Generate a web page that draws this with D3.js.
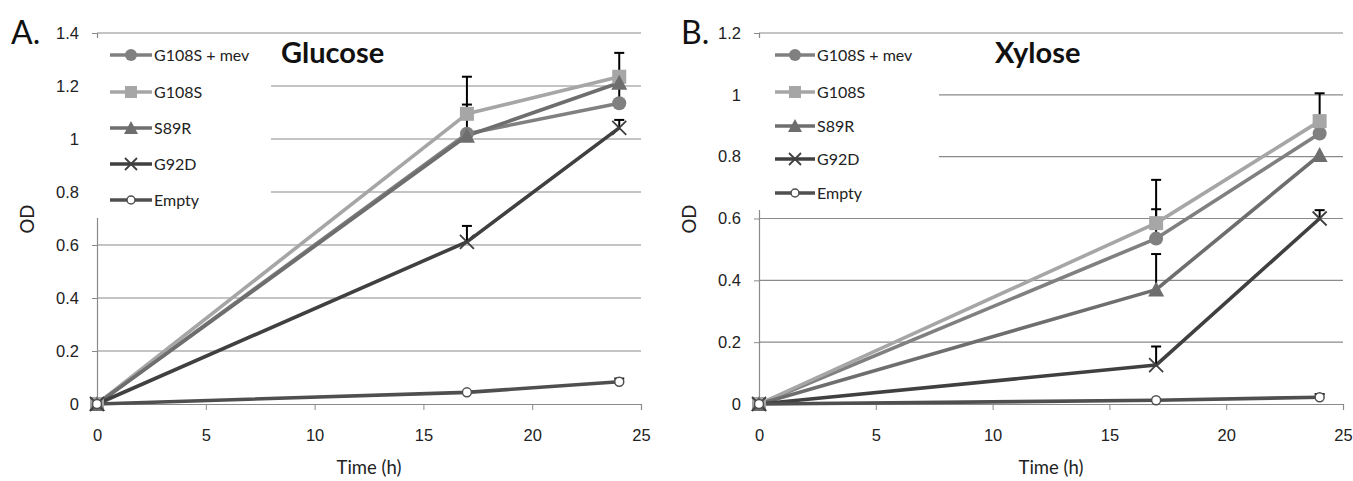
<!DOCTYPE html>
<html><head><meta charset="utf-8">
<script src="https://cdn.jsdelivr.net/npm/d3@7"></script>
<style>body{margin:0;background:#fff;} svg{display:block;font-family:Lato,"Liberation Sans",sans-serif;}</style>
</head><body>
<svg id="c" width="1353" height="481"></svg>
<script>
const times = [0, 17, 24];
const seriesNames = ["G108S + mev", "G108S", "S89R", "G92D", "Empty"];
const seriesColors = ["#808080", "#a6a6a6", "#6e6e6e", "#404040", "#4f4f4f"];
const seriesMarkers = ["circle", "square", "triangle", "x", "open"];

// Glucose panel (A)
const glucoseMev   = [0, 1.02, 1.135];
const glucoseG108S = [0, 1.095, 1.235];
const glucoseS89R  = [0, 1.012, 1.212];
const glucoseG92D  = [0, 0.612, 1.042];
const glucoseEmpty = [0, 0.044, 0.084];
const glucoseErrMev   = [0, 0.11, 0.06];
const glucoseErrG108S = [0, 0.14, 0.09];
const glucoseErrS89R  = [0, 0, 0];
const glucoseErrG92D  = [0, 0.06, 0.03];
const glucoseErrEmpty = [0, 0, 0.012];
const glucoseYTicks = [0, 0.2, 0.4, 0.6, 0.8, 1, 1.2, 1.4];

// Xylose panel (B)
const xyloseMev   = [0, 0.535, 0.875];
const xyloseG108S = [0, 0.585, 0.915];
const xyloseS89R  = [0, 0.37, 0.805];
const xyloseG92D  = [0, 0.126, 0.6];
const xyloseEmpty = [0, 0.012, 0.022];
const xyloseErrMev   = [0, 0.095, 0];
const xyloseErrG108S = [0, 0.14, 0.09];
const xyloseErrS89R  = [0, 0.115, 0];
const xyloseErrG92D  = [0, 0.06, 0.027];
const xyloseErrEmpty = [0, 0, 0.01];
const xyloseYTicks = [0, 0.2, 0.4, 0.6, 0.8, 1, 1.2];

const xTicks = [0, 5, 10, 15, 20, 25];

const svg = d3.select("#c");

function panel(cfg) {
  const g = svg.append("g");
  const x = d3.scaleLinear().domain([0, 25]).range([cfg.x0, cfg.x1]);
  const y = d3.scaleLinear().domain([0, cfg.ymax]).range([cfg.y0, cfg.y1]);

  // gridlines
  g.append("g").selectAll("line").data(cfg.yTicks.filter(d => d > 0)).join("line")
    .attr("x1", cfg.x0).attr("x2", cfg.x1).attr("y1", d => y(d)).attr("y2", d => y(d))
    .attr("stroke", "#8a8a8a").attr("stroke-width", 1.2);

  // y axis
  const ya = g.append("g").attr("transform", `translate(${cfg.x0},0)`)
    .call(d3.axisLeft(y).tickValues(cfg.yTicks).tickFormat(d => String(+d.toFixed(1))).tickSize(5).tickPadding(13));
  ya.select(".domain").attr("stroke", "#8a8a8a").attr("stroke-width", 1.2);
  ya.selectAll(".tick line").attr("stroke", "#8a8a8a");
  ya.selectAll("text").attr("font-size", 16.5).attr("fill", "#222");

  // x axis
  const xa = g.append("g").attr("transform", `translate(0,${cfg.y0})`)
    .call(d3.axisBottom(x).tickValues(xTicks).tickSize(6).tickPadding(19));
  xa.select(".domain").attr("stroke", "#8a8a8a").attr("stroke-width", 1.2);
  xa.selectAll(".tick line").attr("stroke", "#8a8a8a");
  xa.selectAll("text").attr("font-size", 16.5).attr("fill", "#222");

  // axis titles
  g.append("text").attr("x", (cfg.x0 + cfg.x1) / 2).attr("y", 474).attr("text-anchor", "middle")
    .attr("font-size", 18.5).attr("fill", "#222").text("Time (h)");
  g.append("text").attr("transform", `translate(${cfg.ylabX},${cfg.ylabY}) rotate(-90)`)
    .attr("text-anchor", "middle").attr("font-size", 18.5).attr("fill", "#222").text("OD");

  // legend background (covers gridlines)
  g.append("rect").attr("x", cfg.x0 - 6).attr("y", cfg.legTop).attr("width", cfg.legW).attr("height", cfg.legH).attr("fill", "#fff");

  const line = d3.line().x((d, i) => x(times[i])).y(d => y(d));

  // lines
  cfg.values.forEach((vals, s) => {
    g.append("path").datum(vals).attr("d", line).attr("fill", "none")
      .attr("stroke", seriesColors[s]).attr("stroke-width", 3.6).attr("stroke-linejoin", "round");
  });

  // error bars
  cfg.values.forEach((vals, s) => {
    vals.forEach((v, i) => {
      const e = cfg.errs[s][i];
      if (!e) return;
      const cx = x(times[i]);
      g.append("line").attr("x1", cx).attr("x2", cx).attr("y1", y(v)).attr("y2", y(v + e)).attr("stroke", "#000").attr("stroke-width", 2);
      g.append("line").attr("x1", cx - 5).attr("x2", cx + 5).attr("y1", y(v + e)).attr("y2", y(v + e)).attr("stroke", "#000").attr("stroke-width", 2);
    });
  });

  function marker(sel, type, color, cx, cy, big) {
    const r = big ? 7 : 6;
    if (type === "circle") sel.append("circle").attr("cx", cx).attr("cy", cy).attr("r", r).attr("fill", color);
    else if (type === "square") sel.append("rect").attr("x", cx - r).attr("y", cy - r).attr("width", 2 * r).attr("height", 2 * r).attr("fill", color);
    else if (type === "triangle") sel.append("path").attr("d", `M${cx},${cy - r - 1}L${cx + r + 1},${cy + r}L${cx - r - 1},${cy + r}Z`).attr("fill", color);
    else if (type === "x") sel.append("path").attr("d", `M${cx - r},${cy - r}L${cx + r},${cy + r}M${cx + r},${cy - r}L${cx - r},${cy + r}`).attr("stroke", color).attr("stroke-width", 1.8);
    else if (type === "open") sel.append("circle").attr("cx", cx).attr("cy", cy).attr("r", big ? 4.5 : 4).attr("fill", "#fff").attr("stroke", color).attr("stroke-width", 1.5);
  }

  // markers
  cfg.values.forEach((vals, s) => {
    vals.forEach((v, i) => marker(g, seriesMarkers[s], seriesColors[s], x(times[i]), y(v), true));
  });

  // legend
  seriesNames.forEach((n, s) => {
    const ly = cfg.legRows[s];
    g.append("line").attr("x1", cfg.legX).attr("x2", cfg.legX + cfg.legLen).attr("y1", ly).attr("y2", ly)
      .attr("stroke", seriesColors[s]).attr("stroke-width", 3.6);
    marker(g, seriesMarkers[s], seriesColors[s], cfg.legX + cfg.legLen / 2, ly, false);
    g.append("text").attr("x", cfg.legX + cfg.legLen + 2).attr("y", ly).attr("dy", "0.35em")
      .attr("font-size", 16).attr("fill", "#222").text(n);
  });

  // title and panel letter
  g.append("text").attr("x", cfg.titleX).attr("y", 63).attr("font-size", 29).attr("font-weight", "bold").attr("fill", "#111").text(cfg.title);
  g.append("text").attr("x", cfg.letterX).attr("y", 44).attr("font-size", 32).attr("fill", "#111").text(cfg.letter);
}

panel({
  x0: 97, x1: 641, y0: 404, y1: 33, ymax: 1.4, yTicks: glucoseYTicks,
  values: [glucoseMev, glucoseG108S, glucoseS89R, glucoseG92D, glucoseEmpty],
  errs: [glucoseErrMev, glucoseErrG108S, glucoseErrS89R, glucoseErrG92D, glucoseErrEmpty],
  ylabX: 34, ylabY: 219,
  legTop: 38, legW: 180, legH: 180, legX: 110, legLen: 42,
  legRows: [55, 92, 128, 164, 200],
  title: "Glucose", titleX: 281, letter: "A.", letterX: 11
});

panel({
  x0: 759, x1: 1343, y0: 404, y1: 33, ymax: 1.2, yTicks: xyloseYTicks,
  values: [xyloseMev, xyloseG108S, xyloseS89R, xyloseG92D, xyloseEmpty],
  errs: [xyloseErrMev, xyloseErrG108S, xyloseErrS89R, xyloseErrG92D, xyloseErrEmpty],
  ylabX: 696, ylabY: 219,
  legTop: 38, legW: 186, legH: 172, legX: 775, legLen: 40,
  legRows: [55, 92, 126, 159, 193],
  title: "Xylose", titleX: 995, letter: "B.", letterX: 681
});
</script>
</body></html>
